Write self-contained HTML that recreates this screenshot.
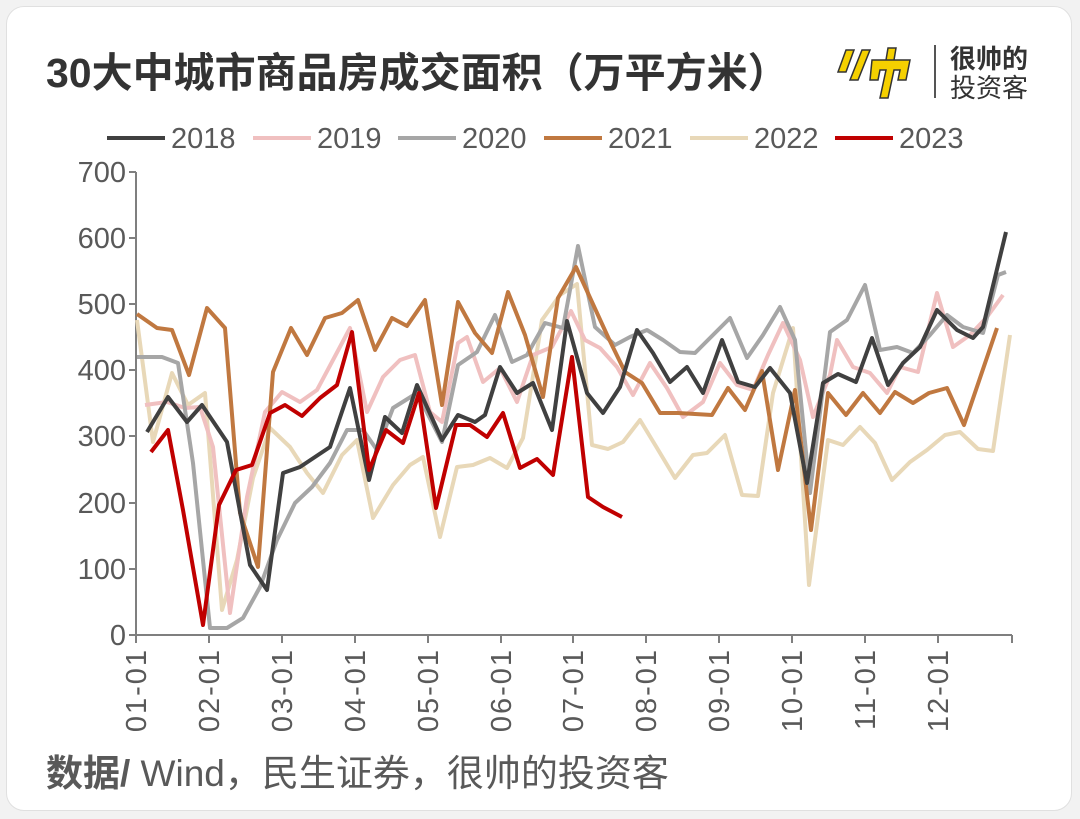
<!DOCTYPE html>
<html><head><meta charset="utf-8"><style>
html,body{margin:0;padding:0;background:#f2f2f2;}
body{width:1080px;height:819px;overflow:hidden;font-family:"Liberation Sans","Noto Sans CJK SC",sans-serif;}
.card{position:absolute;left:6px;top:6px;width:1064px;height:803px;background:#fff;border-radius:18px;border:1px solid #e0e0e0;}
</style></head><body>
<div class="card"></div>
<svg width="1080" height="819" style="position:absolute;left:0;top:0" font-family="Liberation Sans, Noto Sans CJK SC, sans-serif">
<text x="46" y="87" font-size="41" font-weight="bold" fill="#333">30大中城市商品房成交面积（万平方米）</text>
<g transform="translate(832,42)">
<path d="M6 30 L14 8 L22 8 L14 30 Z M18 38 L30 8 L38 8 L26 38 Z" fill="#f5d000" stroke="#333" stroke-width="1.5"/>
<path d="M40 18 L78 18 L74 38 L66 38 L68 28 L62 28 L56 56 L48 56 L54 28 L48 28 L46 38 L38 38 Z M56 6 L64 6 L62 18 L54 18 Z" fill="#f5d000" stroke="#333" stroke-width="1.5"/>
</g>
<line x1="935" y1="45" x2="935" y2="98" stroke="#555" stroke-width="2"/>
<text x="950" y="68" font-size="26" font-weight="bold" fill="#333">很帅的</text>
<text x="950" y="97" font-size="26" fill="#333">投资客</text>
<g font-size="29" fill="#595959" stroke-width="4">
<line x1="107" y1="138" x2="165" y2="138" stroke="#404040"/><text x="171" y="148">2018</text>
<line x1="253" y1="138" x2="311" y2="138" stroke="#f0c0c0"/><text x="317" y="148">2019</text>
<line x1="398" y1="138" x2="456" y2="138" stroke="#a6a6a6"/><text x="462" y="148">2020</text>
<line x1="544" y1="138" x2="602" y2="138" stroke="#c07840"/><text x="608" y="148">2021</text>
<line x1="690" y1="138" x2="748" y2="138" stroke="#e8d8b8"/><text x="754" y="148">2022</text>
<line x1="835" y1="138" x2="893" y2="138" stroke="#c00000"/><text x="899" y="148">2023</text>
</g>
<g stroke="#7f7f7f" stroke-width="2">
<line x1="136" y1="172" x2="136" y2="636"/>
<line x1="136" y1="635" x2="1012" y2="635"/>
<line x1="129" y1="172" x2="136" y2="172"/><line x1="129" y1="238" x2="136" y2="238"/><line x1="129" y1="304" x2="136" y2="304"/><line x1="129" y1="370" x2="136" y2="370"/><line x1="129" y1="436" x2="136" y2="436"/><line x1="129" y1="503" x2="136" y2="503"/><line x1="129" y1="569" x2="136" y2="569"/><line x1="129" y1="635" x2="136" y2="635"/>
<line x1="136" y1="635" x2="136" y2="643"/><line x1="209" y1="635" x2="209" y2="643"/><line x1="282" y1="635" x2="282" y2="643"/><line x1="355" y1="635" x2="355" y2="643"/><line x1="428" y1="635" x2="428" y2="643"/><line x1="501" y1="635" x2="501" y2="643"/><line x1="573" y1="635" x2="573" y2="643"/><line x1="646" y1="635" x2="646" y2="643"/><line x1="719" y1="635" x2="719" y2="643"/><line x1="792" y1="635" x2="792" y2="643"/><line x1="865" y1="635" x2="865" y2="643"/><line x1="938" y1="635" x2="938" y2="643"/><line x1="1012" y1="635" x2="1012" y2="643"/>
</g>
<g font-size="29" fill="#595959" text-anchor="end">
<text x="126" y="182">700</text><text x="126" y="248">600</text><text x="126" y="314">500</text><text x="126" y="380">400</text><text x="126" y="446">300</text><text x="126" y="513">200</text><text x="126" y="579">100</text><text x="126" y="645">0</text>
</g>
<g font-size="29" fill="#595959" text-anchor="end" letter-spacing="2">
<text transform="translate(146,648) rotate(-90)">01-01</text>
<text transform="translate(219,648) rotate(-90)">02-01</text>
<text transform="translate(292,648) rotate(-90)">03-01</text>
<text transform="translate(365,648) rotate(-90)">04-01</text>
<text transform="translate(438,648) rotate(-90)">05-01</text>
<text transform="translate(511,648) rotate(-90)">06-01</text>
<text transform="translate(583,648) rotate(-90)">07-01</text>
<text transform="translate(656,648) rotate(-90)">08-01</text>
<text transform="translate(729,648) rotate(-90)">09-01</text>
<text transform="translate(802,648) rotate(-90)">10-01</text>
<text transform="translate(875,648) rotate(-90)">11-01</text>
<text transform="translate(948,648) rotate(-90)">12-01</text>
</g>
<g fill="none" stroke-width="4" stroke-linejoin="round">
<polyline stroke="#e8d8b8" points="137,320 153,442 172,373 188,405 205,393 222,610 237,560 253,478 270,428 290,447 307,473 323,493 342,455 357,440 373,518 393,485 410,465 423,457 440,537 457,467 473,465 490,458 507,468 523,438 542,320 560,295 577,284 592,445 608,449 623,442 640,420 657,448 675,478 693,455 707,453 725,435 742,495 758,496 773,393 793,328 809,585 828,440 843,445 860,427 875,443 892,480 910,462 927,450 945,435 960,432 978,449 993,451 1010,335"/>
<polyline stroke="#f0c0c0" points="145,405 167,402 185,408 200,407 213,447 230,613 247,497 265,412 282,392 300,402 317,390 333,360 350,328 367,412 383,377 400,360 415,355 430,412 442,422 458,343 467,337 483,382 500,368 517,402 533,355 552,347 571,311 585,340 600,348 617,367 633,395 650,363 667,388 683,417 703,402 720,363 737,385 753,390 768,355 783,323 800,360 813,417 830,375 837,340 853,367 870,373 887,393 900,367 918,372 937,293 953,347 970,335 987,317 1003,295"/>
<polyline stroke="#a6a6a6" points="137,357 162,357 178,363 193,463 210,628 227,628 243,618 260,587 277,540 295,503 312,487 330,463 347,430 363,430 377,450 393,408 417,393 442,442 458,365 477,352 495,315 512,362 527,355 545,323 563,328 578,246 595,327 615,345 630,337 647,330 663,340 680,352 695,353 713,335 730,318 747,358 763,335 780,307 795,340 810,493 830,332 847,320 865,285 880,350 897,347 913,353 930,335 947,315 963,327 983,333 998,275 1006,272"/>
<polyline stroke="#c07840" points="137,314 157,328 172,330 189,375 207,308 225,328 240,513 258,567 273,372 291,328 307,355 325,318 342,313 358,300 375,350 392,318 407,326 425,300 442,405 458,302 475,333 492,353 508,292 525,335 543,397 558,298 576,267 592,302 608,337 625,372 642,383 660,413 678,413 712,415 728,388 745,410 762,371 778,470 795,390 811,530 828,393 846,415 863,393 880,413 895,392 913,403 929,393 947,388 964,425 997,328"/>
<polyline stroke="#404040" points="147,432 168,397 187,422 202,405 227,442 250,565 267,590 283,473 300,467 330,447 350,388 369,480 385,417 402,433 417,385 442,440 458,415 475,422 485,415 500,367 517,393 533,383 552,430 567,321 587,393 603,413 620,387 637,330 653,353 670,382 687,367 703,393 722,340 738,382 755,387 770,368 790,393 807,483 823,383 838,374 856,382 872,338 888,385 903,363 920,347 937,310 957,330 973,338 983,327 1006,232"/>
<polyline stroke="#c00000" points="151,452 168,430 183,510 203,625 219,505 236,470 252,465 270,413 285,405 302,416 320,398 337,385 352,332 369,470 386,430 403,443 419,393 436,508 456,425 470,425 487,437 503,413 520,468 537,459 553,475 572,357 588,497 603,507 622,517"/>
</g>
<text x="46" y="786" font-size="37" fill="#595959"><tspan font-weight="bold">数据/</tspan> Wind，民生证券，很帅的投资客</text>
</svg>
</body></html>
